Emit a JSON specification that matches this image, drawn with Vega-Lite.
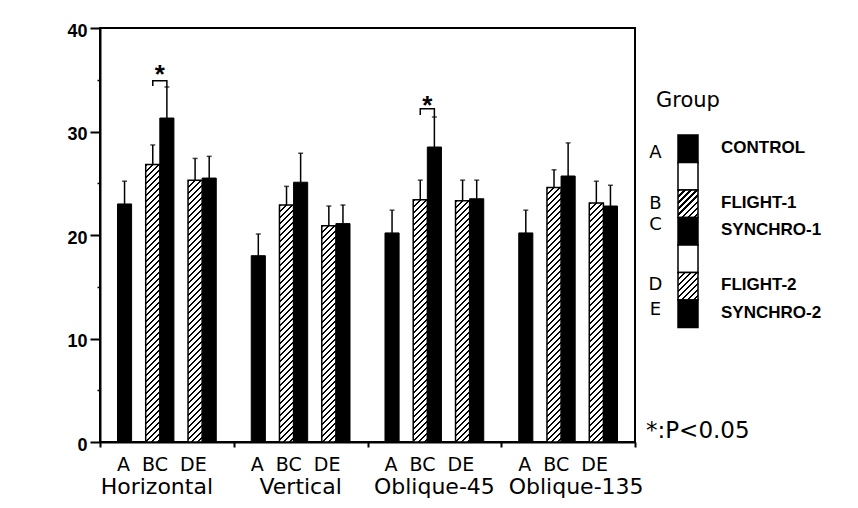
{
  "$schema": "https://vega.github.io/schema/vega-lite/v6.json",
  "padding": {"left": 65, "top": 21, "right": 5, "bottom": 5},
  "background": "white",
  "spacing": 43,
  "bounds": "flush",
  "params": [
    {"name": "hs", "value": [
      {"offset":0,"color":"#000"},{"offset":0.006,"color":"#000"},{"offset":0.006,"color":"#fff"},{"offset":0.015,"color":"#fff"},
      {"offset":0.015,"color":"#000"},{"offset":0.021,"color":"#000"},{"offset":0.021,"color":"#fff"},{"offset":0.03,"color":"#fff"},
      {"offset":0.03,"color":"#000"},{"offset":0.036,"color":"#000"},{"offset":0.036,"color":"#fff"},{"offset":0.045,"color":"#fff"},
      {"offset":0.045,"color":"#000"},{"offset":0.051,"color":"#000"},{"offset":0.051,"color":"#fff"},{"offset":0.06,"color":"#fff"},
      {"offset":0.06,"color":"#000"},{"offset":0.066,"color":"#000"},{"offset":0.066,"color":"#fff"},{"offset":0.075,"color":"#fff"},
      {"offset":0.075,"color":"#000"},{"offset":0.081,"color":"#000"},{"offset":0.081,"color":"#fff"},{"offset":0.09,"color":"#fff"},
      {"offset":0.09,"color":"#000"},{"offset":0.096,"color":"#000"},{"offset":0.096,"color":"#fff"},{"offset":0.105,"color":"#fff"},
      {"offset":0.105,"color":"#000"},{"offset":0.111,"color":"#000"},{"offset":0.111,"color":"#fff"},{"offset":0.12,"color":"#fff"},
      {"offset":0.12,"color":"#000"},{"offset":0.126,"color":"#000"},{"offset":0.126,"color":"#fff"},{"offset":0.135,"color":"#fff"},
      {"offset":0.135,"color":"#000"},{"offset":0.141,"color":"#000"},{"offset":0.141,"color":"#fff"},{"offset":0.15,"color":"#fff"},
      {"offset":0.15,"color":"#000"},{"offset":0.156,"color":"#000"},{"offset":0.156,"color":"#fff"},{"offset":0.165,"color":"#fff"},
      {"offset":0.165,"color":"#000"},{"offset":0.171,"color":"#000"},{"offset":0.171,"color":"#fff"},{"offset":0.18,"color":"#fff"},
      {"offset":0.18,"color":"#000"},{"offset":0.186,"color":"#000"},{"offset":0.186,"color":"#fff"},{"offset":0.195,"color":"#fff"},
      {"offset":0.195,"color":"#000"},{"offset":0.201,"color":"#000"},{"offset":0.201,"color":"#fff"},{"offset":0.21,"color":"#fff"},
      {"offset":0.21,"color":"#000"},{"offset":0.216,"color":"#000"},{"offset":0.216,"color":"#fff"},{"offset":0.225,"color":"#fff"},
      {"offset":0.225,"color":"#000"},{"offset":0.231,"color":"#000"},{"offset":0.231,"color":"#fff"},{"offset":0.24,"color":"#fff"},
      {"offset":0.24,"color":"#000"},{"offset":0.246,"color":"#000"},{"offset":0.246,"color":"#fff"},{"offset":0.255,"color":"#fff"},
      {"offset":0.255,"color":"#000"},{"offset":0.261,"color":"#000"},{"offset":0.261,"color":"#fff"},{"offset":0.27,"color":"#fff"},
      {"offset":0.27,"color":"#000"},{"offset":0.276,"color":"#000"},{"offset":0.276,"color":"#fff"},{"offset":0.285,"color":"#fff"},
      {"offset":0.285,"color":"#000"},{"offset":0.291,"color":"#000"},{"offset":0.291,"color":"#fff"},{"offset":0.3,"color":"#fff"},
      {"offset":0.3,"color":"#000"},{"offset":0.306,"color":"#000"},{"offset":0.306,"color":"#fff"},{"offset":0.315,"color":"#fff"},
      {"offset":0.315,"color":"#000"},{"offset":0.321,"color":"#000"},{"offset":0.321,"color":"#fff"},{"offset":0.33,"color":"#fff"},
      {"offset":0.33,"color":"#000"},{"offset":0.336,"color":"#000"},{"offset":0.336,"color":"#fff"},{"offset":0.345,"color":"#fff"},
      {"offset":0.345,"color":"#000"},{"offset":0.351,"color":"#000"},{"offset":0.351,"color":"#fff"},{"offset":0.36,"color":"#fff"},
      {"offset":0.36,"color":"#000"},{"offset":0.366,"color":"#000"},{"offset":0.366,"color":"#fff"},{"offset":0.375,"color":"#fff"},
      {"offset":0.375,"color":"#000"},{"offset":0.381,"color":"#000"},{"offset":0.381,"color":"#fff"},{"offset":0.39,"color":"#fff"},
      {"offset":0.39,"color":"#000"},{"offset":0.396,"color":"#000"},{"offset":0.396,"color":"#fff"},{"offset":0.405,"color":"#fff"},
      {"offset":0.405,"color":"#000"},{"offset":0.411,"color":"#000"},{"offset":0.411,"color":"#fff"},{"offset":0.42,"color":"#fff"},
      {"offset":0.42,"color":"#000"},{"offset":0.426,"color":"#000"},{"offset":0.426,"color":"#fff"},{"offset":0.435,"color":"#fff"},
      {"offset":0.435,"color":"#000"},{"offset":0.441,"color":"#000"},{"offset":0.441,"color":"#fff"},{"offset":0.45,"color":"#fff"},
      {"offset":0.45,"color":"#000"},{"offset":0.456,"color":"#000"},{"offset":0.456,"color":"#fff"},{"offset":0.465,"color":"#fff"},
      {"offset":0.465,"color":"#000"},{"offset":0.471,"color":"#000"},{"offset":0.471,"color":"#fff"},{"offset":0.48,"color":"#fff"},
      {"offset":0.48,"color":"#000"},{"offset":0.486,"color":"#000"},{"offset":0.486,"color":"#fff"},{"offset":0.495,"color":"#fff"},
      {"offset":0.495,"color":"#000"},{"offset":0.501,"color":"#000"},{"offset":0.501,"color":"#fff"},{"offset":0.51,"color":"#fff"},
      {"offset":0.51,"color":"#000"},{"offset":0.516,"color":"#000"},{"offset":0.516,"color":"#fff"},{"offset":0.525,"color":"#fff"},
      {"offset":0.525,"color":"#000"},{"offset":0.531,"color":"#000"},{"offset":0.531,"color":"#fff"},{"offset":0.54,"color":"#fff"},
      {"offset":0.54,"color":"#000"},{"offset":0.546,"color":"#000"},{"offset":0.546,"color":"#fff"},{"offset":0.555,"color":"#fff"},
      {"offset":0.555,"color":"#000"},{"offset":0.561,"color":"#000"},{"offset":0.561,"color":"#fff"},{"offset":0.57,"color":"#fff"},
      {"offset":0.57,"color":"#000"},{"offset":0.576,"color":"#000"},{"offset":0.576,"color":"#fff"},{"offset":0.585,"color":"#fff"},
      {"offset":0.585,"color":"#000"},{"offset":0.591,"color":"#000"},{"offset":0.591,"color":"#fff"},{"offset":0.6,"color":"#fff"},
      {"offset":0.6,"color":"#000"},{"offset":0.606,"color":"#000"},{"offset":0.606,"color":"#fff"},{"offset":0.615,"color":"#fff"},
      {"offset":0.615,"color":"#000"},{"offset":0.621,"color":"#000"},{"offset":0.621,"color":"#fff"},{"offset":0.63,"color":"#fff"},
      {"offset":0.63,"color":"#000"},{"offset":0.636,"color":"#000"},{"offset":0.636,"color":"#fff"},{"offset":0.645,"color":"#fff"},
      {"offset":0.645,"color":"#000"},{"offset":0.651,"color":"#000"},{"offset":0.651,"color":"#fff"},{"offset":0.66,"color":"#fff"},
      {"offset":0.66,"color":"#000"},{"offset":0.666,"color":"#000"},{"offset":0.666,"color":"#fff"},{"offset":0.675,"color":"#fff"},
      {"offset":0.675,"color":"#000"},{"offset":0.681,"color":"#000"},{"offset":0.681,"color":"#fff"},{"offset":0.69,"color":"#fff"},
      {"offset":0.69,"color":"#000"},{"offset":0.696,"color":"#000"},{"offset":0.696,"color":"#fff"},{"offset":0.705,"color":"#fff"},
      {"offset":0.705,"color":"#000"},{"offset":0.711,"color":"#000"},{"offset":0.711,"color":"#fff"},{"offset":0.72,"color":"#fff"},
      {"offset":0.72,"color":"#000"},{"offset":0.726,"color":"#000"},{"offset":0.726,"color":"#fff"},{"offset":0.735,"color":"#fff"},
      {"offset":0.735,"color":"#000"},{"offset":0.741,"color":"#000"},{"offset":0.741,"color":"#fff"},{"offset":0.75,"color":"#fff"},
      {"offset":0.75,"color":"#000"},{"offset":0.756,"color":"#000"},{"offset":0.756,"color":"#fff"},{"offset":0.765,"color":"#fff"},
      {"offset":0.765,"color":"#000"},{"offset":0.771,"color":"#000"},{"offset":0.771,"color":"#fff"},{"offset":0.78,"color":"#fff"},
      {"offset":0.78,"color":"#000"},{"offset":0.786,"color":"#000"},{"offset":0.786,"color":"#fff"},{"offset":0.795,"color":"#fff"},
      {"offset":0.795,"color":"#000"},{"offset":0.801,"color":"#000"},{"offset":0.801,"color":"#fff"},{"offset":0.81,"color":"#fff"},
      {"offset":0.81,"color":"#000"},{"offset":0.816,"color":"#000"},{"offset":0.816,"color":"#fff"},{"offset":0.825,"color":"#fff"},
      {"offset":0.825,"color":"#000"},{"offset":0.831,"color":"#000"},{"offset":0.831,"color":"#fff"},{"offset":0.84,"color":"#fff"},
      {"offset":0.84,"color":"#000"},{"offset":0.846,"color":"#000"},{"offset":0.846,"color":"#fff"},{"offset":0.855,"color":"#fff"},
      {"offset":0.855,"color":"#000"},{"offset":0.861,"color":"#000"},{"offset":0.861,"color":"#fff"},{"offset":0.87,"color":"#fff"}
    ]}
  ],
  "datasets": {
    "bars": [
      {"group": "Horizontal", "sub": "A", "value": 23.0, "err": 25.2},
      {"group": "Horizontal", "sub": "B", "value": 26.8, "err": 28.7},
      {"group": "Horizontal", "sub": "C", "value": 31.3, "err": 34.3},
      {"group": "Horizontal", "sub": "D", "value": 25.3, "err": 27.4},
      {"group": "Horizontal", "sub": "E", "value": 25.5, "err": 27.6},
      {"group": "Vertical", "sub": "A", "value": 18.0, "err": 20.1},
      {"group": "Vertical", "sub": "B", "value": 22.9, "err": 24.7},
      {"group": "Vertical", "sub": "C", "value": 25.1, "err": 27.9},
      {"group": "Vertical", "sub": "D", "value": 20.9, "err": 22.8},
      {"group": "Vertical", "sub": "E", "value": 21.1, "err": 22.9},
      {"group": "Oblique-45", "sub": "A", "value": 20.2, "err": 22.4},
      {"group": "Oblique-45", "sub": "B", "value": 23.4, "err": 25.3},
      {"group": "Oblique-45", "sub": "C", "value": 28.5, "err": 31.4},
      {"group": "Oblique-45", "sub": "D", "value": 23.3, "err": 25.3},
      {"group": "Oblique-45", "sub": "E", "value": 23.5, "err": 25.3},
      {"group": "Oblique-135", "sub": "A", "value": 20.2, "err": 22.4},
      {"group": "Oblique-135", "sub": "B", "value": 24.6, "err": 26.3},
      {"group": "Oblique-135", "sub": "C", "value": 25.7, "err": 28.9},
      {"group": "Oblique-135", "sub": "D", "value": 23.1, "err": 25.2},
      {"group": "Oblique-135", "sub": "E", "value": 22.8, "err": 24.8}
    ],
    "brackets": [
      {"group": "Horizontal", "sub": "B", "value": 34.4, "o": 1},
      {"group": "Horizontal", "sub": "B", "value": 34.9, "o": 2},
      {"group": "Horizontal", "sub": "C", "value": 34.9, "o": 3},
      {"group": "Horizontal", "sub": "C", "value": 34.3, "o": 4},
      {"group": "Oblique-45", "sub": "B", "value": 31.6, "o": 1},
      {"group": "Oblique-45", "sub": "B", "value": 32.2, "o": 2},
      {"group": "Oblique-45", "sub": "C", "value": 32.2, "o": 3},
      {"group": "Oblique-45", "sub": "C", "value": 31.4, "o": 4}
    ],
    "stars": [
      {"group": "Horizontal", "sub": "B", "value": 36.0},
      {"group": "Oblique-45", "sub": "B", "value": 33.0}
    ],
    "legend": [
      {"key": "A", "letter": "A", "label": "CONTROL", "kind": "black"},
      {"key": "g1", "letter": "", "label": "", "kind": "white"},
      {"key": "B", "letter": "B", "label": "FLIGHT-1", "kind": "hatch"},
      {"key": "C", "letter": "C", "label": "SYNCHRO-1", "kind": "black"},
      {"key": "g2", "letter": "", "label": "", "kind": "white"},
      {"key": "D", "letter": "D", "label": "FLIGHT-2", "kind": "hatch"},
      {"key": "E", "letter": "E", "label": "SYNCHRO-2", "kind": "black"}
    ]
  },
  "hconcat": [
    {
      "width": 535,
      "height": 414,
      "view": {"stroke": "black", "strokeWidth": 2},
      "resolve": {"axis": {"x": "independent", "y": "independent"}},
      "layer": [
        {
          "data": {"name": "bars"},
          "transform": [{"filter": "datum.sub == 'A' || datum.sub == 'C' || datum.sub == 'E'"}],
          "mark": {"type": "bar", "fill": "black", "stroke": "black", "strokeWidth": 1},
          "encoding": {
            "x": {"field": "group", "type": "nominal", "sort": null,
              "scale": {"domain": ["Horizontal", "Vertical", "Oblique-45", "Oblique-135"], "paddingInner": 0, "paddingOuter": 0},
              "axis": {"orient": "bottom", "title": null, "labelExpr": "'A\u00a0\u00a0BC\u00a0\u00a0DE'", "labelFont": "DejaVu Sans", "labelFontSize": 19, "labelColor": "black", "labelPadding": 13, "labelAngle": 0, "labelOffset": -5, "ticks": false, "domainColor": "black", "domainWidth": 2, "grid": false}},
            "xOffset": {"field": "sub", "type": "nominal", "sort": null,
              "scale": {"domain": ["p0", "A", "g1", "B", "C", "g2", "D", "E", "p1"], "paddingInner": 0, "paddingOuter": 0.24}},
            "y": {"field": "value", "type": "quantitative",
              "scale": {"domain": [0, 40], "nice": false, "zero": true},
              "axis": {"orient": "left", "title": null, "values": [0, 10, 20, 30, 40], "tickSize": 10, "tickWidth": 2, "tickColor": "black", "domainColor": "black", "domainWidth": 2, "labelFont": "Liberation Sans", "labelFontWeight": "bold", "labelFontSize": 18, "labelColor": "black", "labelPadding": 3, "labelOffset": 3, "grid": false}}
          }
        },
        {
          "data": {"name": "bars"},
          "transform": [{"filter": "datum.sub == 'B' || datum.sub == 'D'"}],
          "mark": {"type": "bar", "stroke": "black", "strokeWidth": 1.5,
            "fill": {"expr": "{gradient: 'linear', x1: 0, y1: 0, x2: 400 * 14.1 / (198.8 + pow(datum.value * 10.35, 2)), y2: 400 * datum.value * 10.35 / (198.8 + pow(datum.value * 10.35, 2)), stops: hs}"}},
          "encoding": {
            "x": {"field": "group", "type": "nominal", "sort": null,
              "scale": {"domain": ["Horizontal", "Vertical", "Oblique-45", "Oblique-135"], "paddingInner": 0, "paddingOuter": 0}, "axis": null},
            "xOffset": {"field": "sub", "type": "nominal", "sort": null,
              "scale": {"domain": ["p0", "A", "g1", "B", "C", "g2", "D", "E", "p1"], "paddingInner": 0, "paddingOuter": 0.24}},
            "y": {"field": "value", "type": "quantitative", "scale": {"domain": [0, 40], "nice": false, "zero": true}, "axis": null}
          }
        },
        {
          "data": {"name": "bars"},
          "mark": {"type": "rule", "color": "black", "strokeWidth": 1.5},
          "encoding": {
            "x": {"field": "group", "type": "nominal", "sort": null,
              "scale": {"domain": ["Horizontal", "Vertical", "Oblique-45", "Oblique-135"], "paddingInner": 0, "paddingOuter": 0},
              "axis": {"orient": "bottom", "title": null, "ticks": false, "domain": false, "labelFont": "DejaVu Sans", "labelFontSize": 22, "labelColor": "black", "labelPadding": 34, "labelAngle": 0, "grid": false,
                "labelOffset": {"condition": [{"test": "datum.label == 'Horizontal'", "value": -10}, {"test": "datum.label == 'Oblique-135'", "value": 8}], "value": 0}}},
            "xOffset": {"field": "sub", "type": "nominal", "sort": null,
              "scale": {"domain": ["p0", "A", "g1", "B", "C", "g2", "D", "E", "p1"], "paddingInner": 0, "paddingOuter": 0.24}},
            "y": {"field": "value", "type": "quantitative", "scale": {"domain": [0, 40], "nice": false, "zero": true},
              "axis": {"orient": "left", "title": null, "values": [5, 15, 25, 35], "labels": false, "domain": false, "tickSize": 3, "tickWidth": 1.5, "tickColor": "black", "grid": false}},
            "y2": {"field": "err"}
          }
        },
        {
          "data": {"name": "bars"},
          "mark": {"type": "tick", "color": "black", "size": 5, "thickness": 1.5, "orient": "horizontal"},
          "encoding": {
            "x": {"field": "group", "type": "nominal", "sort": null,
              "scale": {"domain": ["Horizontal", "Vertical", "Oblique-45", "Oblique-135"], "paddingInner": 0, "paddingOuter": 0},
              "axis": {"orient": "bottom", "title": null, "labels": false, "domain": false, "ticks": true, "tickBand": "extent", "tickSize": 5, "tickWidth": 2, "tickColor": "black", "grid": false}},
            "xOffset": {"field": "sub", "type": "nominal", "sort": null,
              "scale": {"domain": ["p0", "A", "g1", "B", "C", "g2", "D", "E", "p1"], "paddingInner": 0, "paddingOuter": 0.24}},
            "y": {"field": "err", "type": "quantitative", "scale": {"domain": [0, 40], "nice": false, "zero": true}, "axis": null}
          }
        },
        {
          "data": {"name": "brackets"},
          "mark": {"type": "line", "color": "black", "strokeWidth": 1.5},
          "encoding": {
            "x": {"field": "group", "type": "nominal", "sort": null,
              "scale": {"domain": ["Horizontal", "Vertical", "Oblique-45", "Oblique-135"], "paddingInner": 0, "paddingOuter": 0}, "axis": null},
            "xOffset": {"field": "sub", "type": "nominal", "sort": null,
              "scale": {"domain": ["p0", "A", "g1", "B", "C", "g2", "D", "E", "p1"], "paddingInner": 0, "paddingOuter": 0.24}},
            "y": {"field": "value", "type": "quantitative", "scale": {"domain": [0, 40], "nice": false, "zero": true}, "axis": null},
            "order": {"field": "o", "type": "quantitative"},
            "detail": {"field": "group"}
          }
        },
        {
          "data": {"name": "stars"},
          "mark": {"type": "text", "text": "*", "font": "Liberation Sans", "fontWeight": "bold", "fontSize": 26, "baseline": "alphabetic", "align": "center", "dx": 7, "dy": 14, "color": "black"},
          "encoding": {
            "x": {"field": "group", "type": "nominal", "sort": null,
              "scale": {"domain": ["Horizontal", "Vertical", "Oblique-45", "Oblique-135"], "paddingInner": 0, "paddingOuter": 0}, "axis": null},
            "xOffset": {"field": "sub", "type": "nominal", "sort": null,
              "scale": {"domain": ["p0", "A", "g1", "B", "C", "g2", "D", "E", "p1"], "paddingInner": 0, "paddingOuter": 0.24}},
            "y": {"field": "value", "type": "quantitative", "scale": {"domain": [0, 40], "nice": false, "zero": true}, "axis": null}
          }
        }
      ]
    },
    {
      "width": 20,
      "height": 414,
      "view": {"stroke": null},
      "layer": [
        {
          "data": {"name": "legend"},
          "mark": {"type": "bar", "stroke": "black", "strokeWidth": 1.5,
            "fill": {"expr": "datum.kind == 'hatch' ? {gradient: 'linear', x1: 0, y1: 0, x2: 6.919, y2: 9.514, stops: hs} : (datum.kind == 'black' ? 'black' : 'white')"}},
          "encoding": {
            "y": {"field": "key", "type": "nominal", "sort": null,
              "scale": {"type": "band", "domain": ["t1", "t2", "t3", "A", "g1", "B", "C", "g2", "D", "E", "b1", "b2", "b3", "b4"], "paddingInner": 0, "paddingOuter": 0.527, "align": 0.845}, "axis": null}
          }
        },
        {
          "data": {"name": "legend"},
          "mark": {"type": "text", "font": "DejaVu Sans", "fontSize": 18, "align": "center", "baseline": "middle", "dx": -32.5, "color": "black",
            "dy": {"expr": "datum.key == 'A' ? 4.5 : datum.key == 'B' ? 0 : datum.key == 'C' ? -6 : datum.key == 'D' ? -1 : -4"}},
          "encoding": {
            "y": {"field": "key", "type": "nominal", "sort": null,
              "scale": {"type": "band", "domain": ["t1", "t2", "t3", "A", "g1", "B", "C", "g2", "D", "E", "b1", "b2", "b3", "b4"], "paddingInner": 0, "paddingOuter": 0.527, "align": 0.845}, "axis": null},
            "text": {"field": "letter"}
          }
        },
        {
          "data": {"name": "legend"},
          "mark": {"type": "text", "font": "Liberation Sans", "fontWeight": "bold", "fontSize": 17, "align": "left", "baseline": "middle", "dx": 33, "dy": -1, "color": "black"},
          "encoding": {
            "y": {"field": "key", "type": "nominal", "sort": null,
              "scale": {"type": "band", "domain": ["t1", "t2", "t3", "A", "g1", "B", "C", "g2", "D", "E", "b1", "b2", "b3", "b4"], "paddingInner": 0, "paddingOuter": 0.527, "align": 0.845}, "axis": null},
            "text": {"field": "label"}
          }
        },
        {
          "data": {"values": [{"t": "Group", "key": "A"}]},
          "mark": {"type": "text", "font": "DejaVu Sans", "fontSize": 21, "align": "left", "baseline": "alphabetic", "dx": -32, "dy": -42, "color": "black"},
          "encoding": {
            "y": {"field": "key", "type": "nominal", "sort": null,
              "scale": {"type": "band", "domain": ["t1", "t2", "t3", "A", "g1", "B", "C", "g2", "D", "E", "b1", "b2", "b3", "b4"], "paddingInner": 0, "paddingOuter": 0.527, "align": 0.845}, "axis": null},
            "text": {"field": "t"}
          }
        },
        {
          "data": {"values": [{"t": "*:P<0.05", "key": "E"}]},
          "mark": {"type": "text", "font": "DejaVu Sans", "fontSize": 23, "align": "left", "baseline": "alphabetic", "dx": -42, "dy": 124, "color": "black"},
          "encoding": {
            "y": {"field": "key", "type": "nominal", "sort": null,
              "scale": {"type": "band", "domain": ["t1", "t2", "t3", "A", "g1", "B", "C", "g2", "D", "E", "b1", "b2", "b3", "b4"], "paddingInner": 0, "paddingOuter": 0.527, "align": 0.845}, "axis": null},
            "text": {"field": "t"}
          }
        }
      ]
    }
  ]
}
